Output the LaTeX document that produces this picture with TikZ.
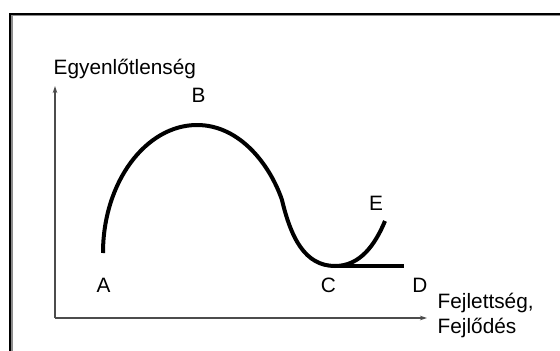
\documentclass[tikz,border=0pt]{standalone}
\usepackage{fontspec}
\setmainfont{Liberation Sans}
\usetikzlibrary{arrows.meta}
\begin{document}
\begin{tikzpicture}[x=1pt,y=-1pt,
  lbl/.style={inner sep=0pt,font=\fontsize{20.8}{25}\selectfont},
  axis/.style={draw=black!70,line width=1.1pt,-{Stealth[length=7pt,width=4.5pt]}},
  curve/.style={line width=4pt,line cap=butt}]
\useasboundingbox (0,0) rectangle (560,351);
\fill[white] (0,0) rectangle (560,351);
% frame
\draw[black!45,line width=1.5pt] (11.8,351) -- (11.8,15.3) -- (560,15.3);
\draw[black,line width=2pt] (10,351) -- (10,13.5) -- (560,13.5);
% axes
\coordinate (O) at (55,318);
\coordinate (Ytip) at (55,86);
\coordinate (Xtip) at (427,318);
\draw[axis] (O) -- (Ytip);
\draw[axis] (O) -- (Xtip);
% curve
\coordinate (pA) at (103,253);
\coordinate (pB) at (197,125);
\coordinate (pM) at (282,200);
\coordinate (pC) at (335,266);
\coordinate (pD) at (404,265.5);
\coordinate (pE) at (385,221);
\draw[curve] (pA) .. controls (103,182) and (146,125) .. (pB)
  .. controls (240,125) and (270,165) .. (pM)
  .. controls (291,238) and (305,266) .. (pC)
  .. controls (360,266) and (375,245) .. (pE);
\draw[curve] (336,265.5) -- (pD);
% labels
\node[lbl,anchor=base west] (ttl) at (53.5,74) {Egyenlőtlenség};
\node[lbl,anchor=base] (lA) at (103.5,292) {A};
\node[lbl,anchor=base] (lB) at (198.5,102) {B};
\node[lbl,anchor=base] (lC) at (328.5,292) {C};
\node[lbl,anchor=base] (lD) at (420,292) {D};
\node[lbl,anchor=base] (lE) at (376,210.5) {E};
\node[lbl,anchor=base west,align=left] (xl) at (437.5,333) {Fejlettség,\\Fejlődés};
\end{tikzpicture}
\end{document}
